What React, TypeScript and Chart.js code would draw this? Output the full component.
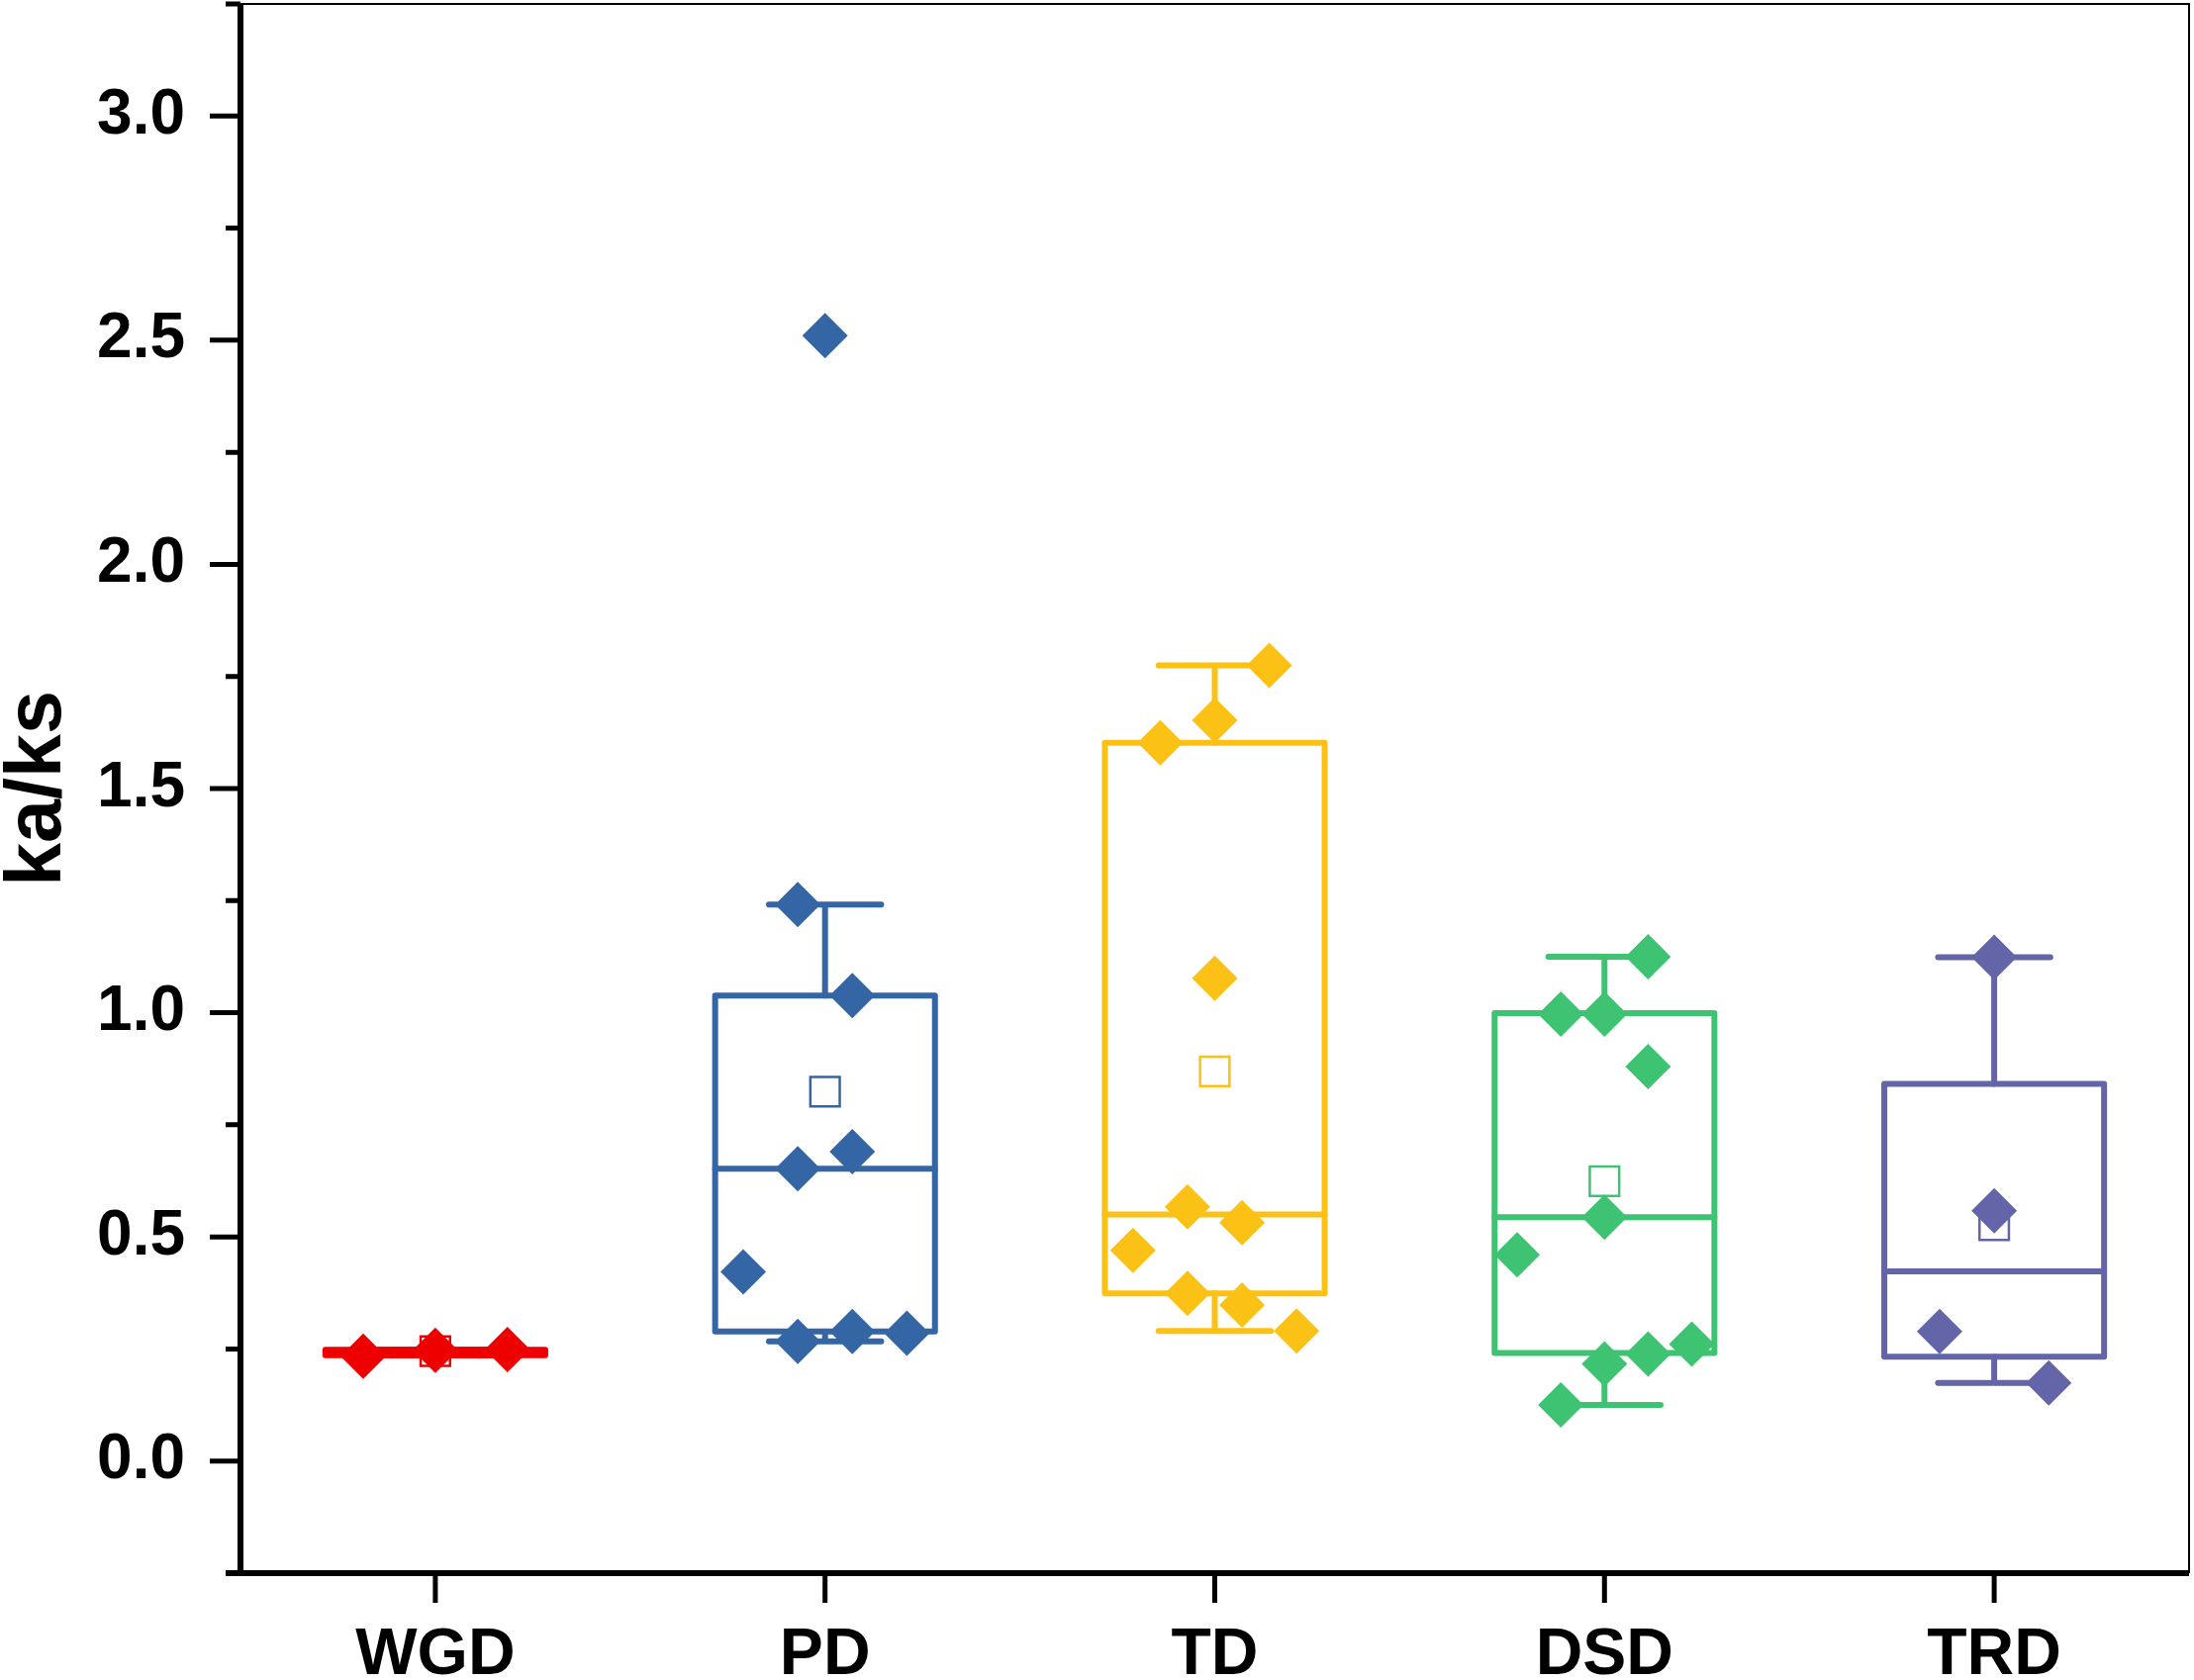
import { useEffect, useRef } from "react";
import Chart from "chart.js/auto";

const categories = ["WGD", "PD", "TD", "DSD", "TRD"];
const colors = ["#ee0000", "#3465a4", "#fbc115", "#3ec373", "#6465a8"];

// ka/ks of each gene pair, per duplication type
const wgdValues = [0.234, 0.247, 0.249];
const pdValues = [2.51, 1.241, 1.038, 0.69, 0.652, 0.422, 0.289, 0.285, 0.267];
const tdValues = [1.775, 1.652, 1.602, 1.077, 0.567, 0.532, 0.47, 0.374, 0.348, 0.29];
const dsdValues = [1.125, 0.997, 0.997, 0.88, 0.544, 0.46, 0.261, 0.239, 0.217, 0.125];
const trdValues = [1.124, 0.558, 0.289, 0.174];

// horizontal spread of the points, in category units
const wgdJitter = [-0.185, 0, 0.185];
const pdJitter = [0, -0.07, 0.07, 0.07, -0.07, -0.21, 0.07, 0.21, -0.07];
const tdJitter = [0.14, 0, -0.14, 0, -0.07, 0.07, -0.21, -0.07, 0.07, 0.21];
const dsdJitter = [0.112, -0.112, 0, 0.112, 0, -0.224, 0.224, 0.112, 0, -0.112];
const trdJitter = [0, 0, -0.14, 0.14];

// box statistics as drawn in the figure
const boxQ1 = [0.236, 0.289, 0.374, 0.241, 0.233];
const boxMedian = [0.244, 0.652, 0.55, 0.544, 0.423];
const boxQ3 = [0.248, 1.038, 1.602, 0.999, 0.841];
const whiskerLow = [0.236, 0.267, 0.29, 0.125, 0.174];
const whiskerHigh = [0.248, 1.241, 1.775, 1.125, 1.124];
const means = [0.245, 0.824, 0.869, 0.624, 0.526];

const groupValues = [wgdValues, pdValues, tdValues, dsdValues, trdValues];
const groupJitter = [wgdJitter, pdJitter, tdJitter, dsdJitter, trdJitter];

const BOX_HALF = 0.282;
const CAP_HALF = 0.144;
const FONT = "'Liberation Sans', Arial, sans-serif";

const isMajor = (v: number) => Math.abs(v * 2 - Math.round(v * 2)) < 1e-6 && v > -0.1;

const boxPlugin = {
  id: "boxes",
  beforeDatasetsDraw(chart: any) {
    const { ctx } = chart;
    const x = chart.scales.x;
    const y = chart.scales.y;
    ctx.save();
    ctx.lineWidth = 6;
    ctx.lineJoin = "round";
    ctx.lineCap = "round";
    categories.forEach((_, i) => {
      const c = i + 1;
      const cx = x.getPixelForValue(c);
      const l = x.getPixelForValue(c - BOX_HALF);
      const r = x.getPixelForValue(c + BOX_HALF);
      const cl = x.getPixelForValue(c - CAP_HALF);
      const cr = x.getPixelForValue(c + CAP_HALF);
      const yq1 = y.getPixelForValue(boxQ1[i]);
      const yq3 = y.getPixelForValue(boxQ3[i]);
      const ymed = y.getPixelForValue(boxMedian[i]);
      const ylo = y.getPixelForValue(whiskerLow[i]);
      const yhi = y.getPixelForValue(whiskerHigh[i]);
      ctx.strokeStyle = colors[i];
      ctx.beginPath();
      ctx.moveTo(cx, yq3);
      ctx.lineTo(cx, yhi);
      ctx.moveTo(cl, yhi);
      ctx.lineTo(cr, yhi);
      ctx.moveTo(cx, yq1);
      ctx.lineTo(cx, ylo);
      ctx.moveTo(cl, ylo);
      ctx.lineTo(cr, ylo);
      ctx.stroke();
      ctx.strokeRect(l, yq3, r - l, yq1 - yq3);
      ctx.beginPath();
      ctx.moveTo(l, ymed);
      ctx.lineTo(r, ymed);
      ctx.stroke();
    });
    ctx.restore();
  },
};

const axesPlugin = {
  id: "axesFrame",
  afterDraw(chart: any) {
    const { ctx, chartArea } = chart;
    const { left, right, top, bottom } = chartArea;
    const x = chart.scales.x;
    const y = chart.scales.y;
    ctx.save();
    ctx.strokeStyle = "#000";
    // thin frame top and right
    ctx.lineWidth = 2;
    ctx.beginPath();
    ctx.moveTo(left, top);
    ctx.lineTo(right, top);
    ctx.lineTo(right, bottom);
    ctx.stroke();
    // thick axes
    ctx.lineWidth = 6;
    ctx.beginPath();
    ctx.moveTo(left, top);
    ctx.lineTo(left, bottom);
    ctx.moveTo(left - 15, bottom);
    ctx.lineTo(right, bottom);
    ctx.stroke();
    // ticks
    ctx.lineWidth = 5;
    ctx.beginPath();
    y.ticks.forEach((t: any) => {
      const py = y.getPixelForValue(t.value);
      const len = isMajor(t.value) ? 31 : 15;
      ctx.moveTo(left - len, py);
      ctx.lineTo(left, py);
    });
    categories.forEach((_, i) => {
      const px = x.getPixelForValue(i + 1);
      ctx.moveTo(px, bottom);
      ctx.lineTo(px, bottom + 30);
    });
    ctx.stroke();
    ctx.restore();
  },
};

export default function App() {
  const canvasRef = useRef<HTMLCanvasElement | null>(null);
  const chartRef = useRef<Chart | null>(null);

  useEffect(() => {
    if (!canvasRef.current) return;
    const ctx = canvasRef.current.getContext("2d");
    if (!ctx) return;
    if (chartRef.current) chartRef.current.destroy();

    const pointSets = groupValues.map((vals, i) => ({
      label: categories[i],
      data: vals.map((v, k) => ({ x: i + 1 + groupJitter[i][k], y: v })),
      pointStyle: "rectRot",
      pointRadius: 23,
      pointBorderWidth: 0,
      backgroundColor: colors[i],
      borderColor: colors[i],
      order: 2,
    }));
    const meanSets = means.map((m, i) => ({
      label: categories[i] + " mean",
      data: [{ x: i + 1, y: m }],
      pointStyle: "rect",
      pointRadius: 21,
      pointBorderWidth: 2.5,
      backgroundColor: "rgba(0,0,0,0)",
      borderColor: colors[i],
      order: 1,
    }));

    chartRef.current = new Chart(ctx, {
      type: "scatter",
      data: { datasets: [...pointSets, ...meanSets] as any },
      options: {
        animation: false,
        responsive: true,
        maintainAspectRatio: false,
        layout: { autoPadding: false, padding: { top: 4, right: 5, left: 0, bottom: 0 } },
        plugins: {
          legend: { display: false },
          tooltip: { enabled: false },
        },
        scales: {
          x: {
            type: "linear",
            min: 0.5,
            max: 5.5,
            afterBuildTicks: (scale: any) => {
              scale.ticks = categories.map((_, i) => ({ value: i + 1 }));
            },
            afterFit: (scale: any) => {
              scale.height = 108;
              scale.paddingLeft = 0;
              scale.paddingRight = 0;
              scale.paddingTop = 0;
              scale.paddingBottom = 0;
            },
            grid: { display: false, drawTicks: false },
            border: { display: false },
            ticks: {
              autoSkip: false,
              maxRotation: 0,
              padding: 44,
              color: "#000",
              font: { family: FONT, size: 66, weight: "bold" },
              callback: (v: any) => categories[Math.round(Number(v)) - 1] ?? "",
            },
          },
          y: {
            min: -0.25,
            max: 3.25,
            afterFit: (scale: any) => {
              scale.width = 243;
              scale.paddingLeft = 0;
              scale.paddingRight = 0;
              scale.paddingTop = 0;
              scale.paddingBottom = 0;
            },
            grid: { display: false, drawTicks: false },
            border: { display: false },
            title: {
              display: true,
              text: "ka/ks",
              color: "#000",
              padding: 0,
              font: { family: FONT, size: 79, weight: "bold", lineHeight: 1 },
            },
            ticks: {
              stepSize: 0.25,
              autoSkip: false,
              padding: 56,
              color: "#000",
              font: { family: FONT, size: 64, weight: "bold" },
              callback: (v: any) => (isMajor(Number(v)) ? Number(v).toFixed(1) : ""),
            },
          },
        },
      },
      plugins: [boxPlugin, axesPlugin],
    });

    return () => chartRef.current?.destroy();
  }, []);

  return (
    <div
      style={{
        position: "absolute",
        left: 0,
        top: 0,
        width: 2217,
        height: 1698,
        background: "#fff",
      }}
    >
      <canvas ref={canvasRef} />
    </div>
  );
}
